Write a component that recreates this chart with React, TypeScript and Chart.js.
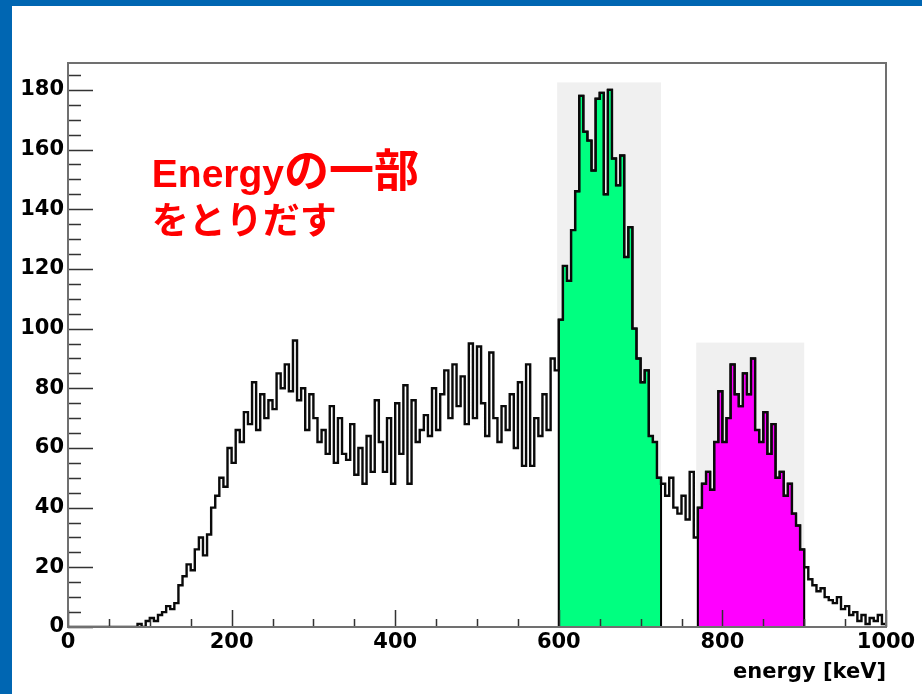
import React, { useEffect, useRef } from 'react';
import { Chart, registerables } from 'chart.js';

Chart.register(...registerables);

// ---------- data ----------
const BIN_WIDTH = 5; // keV per bin
const X_MIN = 0;
const X_MAX = 1000;
const Y_MIN = 0;
const Y_MAX = 189;

// counts per 5 keV bin, 0..1000 keV (200 bins)
const COUNTS = [
  0, 0, 0, 0, 0, 0, 0, 0, 0, 0, 0, 0, 0, 0, 0, 0, 0, 1, 0, 2,
  3, 2, 4, 5, 7, 6, 8, 14, 17, 21, 19, 26, 30, 24, 31, 40, 44, 50, 47, 60,
  55, 66, 62, 72, 68, 82, 66, 78, 70, 76, 73, 85, 80, 88, 79, 96, 76, 80, 66, 78,
  70, 62, 66, 58, 74, 55, 70, 58, 56, 68, 51, 60, 48, 64, 52, 76, 62, 52, 70, 48,
  75, 58, 81, 48, 76, 62, 66, 71, 64, 80, 66, 78, 86, 70, 88, 74, 84, 68, 95, 70,
  94, 75, 64, 92, 70, 62, 74, 66, 78, 60, 82, 54, 88, 54, 70, 64, 78, 66, 90, 86,
  103, 121, 116, 133, 146, 178, 166, 163, 153, 177, 179, 145, 180, 157, 148, 158, 124, 134, 100, 90,
  82, 86, 64, 62, 50, 48, 44, 50, 40, 38, 44, 36, 52, 30, 40, 48, 52, 46, 62, 79,
  62, 70, 88, 78, 74, 85, 78, 90, 66, 62, 72, 58, 68, 50, 52, 44, 48, 38, 34, 26,
  20, 16, 14, 12, 13, 10, 9, 8, 10, 6, 7, 4, 5, 2, 4, 1, 3, 2, 4, 1,
];

const GREEN_RANGE = [600, 725];
const MAGENTA_RANGE = [770, 900];
const GREEN_BOX = [598, 725, 182.5]; // x from, x to, top
const MAGENTA_BOX = [768, 900, 95.3];

const X_TICKS = [0, 200, 400, 600, 800, 1000];
const Y_TICKS = [0, 20, 40, 60, 80, 100, 120, 140, 160, 180];
const X_MINOR_STEP = 50;
const Y_MINOR_STEP = 5;

const X_TITLE = 'energy [keV]';
// annotation: pieces of text [string, font size]
const NOTE_LINE1 = [['Energy', 39], ['の一部', 45]];
const NOTE_LINE2 = [['をとりだす', 37]];
const NOTE_POS = [{ x: 102.5, y: 147.3 }, { x: 102.5, y: 131.6 }];

// ---------- helpers ----------
const binLeft = (i: number) => X_MIN + i * BIN_WIDTH;

function mainPoints() {
  const pts = COUNTS.map((c, i) => ({ x: binLeft(i), y: c }));
  pts.push({ x: X_MAX, y: COUNTS[COUNTS.length - 1] });
  return pts;
}

function subPoints(lo: number, hi: number) {
  const pts: { x: number; y: number }[] = [{ x: lo, y: 0 }];
  let last = 0;
  COUNTS.forEach((c, i) => {
    const e = binLeft(i);
    if (e >= lo && e < hi) {
      pts.push({ x: e, y: c });
      last = c;
    }
  });
  pts.push({ x: hi, y: last });
  pts.push({ x: hi, y: 0 });
  return pts;
}

const FONT = '"DejaVu Sans", "Liberation Sans", sans-serif';
const NOTE_FONT = '"Liberation Sans", "Noto Sans CJK JP", sans-serif';

const decorPlugin = {
  id: 'rootDecor',
  beforeDatasetsDraw(chart: any) {
    const { ctx, scales } = chart;
    const x = scales.x, y = scales.y;
    ctx.save();
    ctx.fillStyle = '#f0f0f0';
    [GREEN_BOX, MAGENTA_BOX].forEach((b) => {
      const x0 = x.getPixelForValue(b[0]);
      const x1 = x.getPixelForValue(b[1]);
      const yt = y.getPixelForValue(b[2]);
      const yb = y.getPixelForValue(0);
      ctx.fillRect(x0, yt, x1 - x0, yb - yt);
    });
    ctx.restore();
  },
  afterDatasetsDraw(chart: any) {
    const { ctx, scales, chartArea } = chart;
    const x = scales.x, y = scales.y;
    const { left, right, top, bottom } = chartArea;
    ctx.save();
    ctx.strokeStyle = '#333';
    ctx.lineWidth = 1.5;
    ctx.beginPath();
    for (let v = Y_MIN; v <= Y_MAX; v += Y_MINOR_STEP) {
      const py = Math.round(y.getPixelForValue(v)) + 0.5;
      const len = Y_TICKS.includes(v) ? 25 : 13;
      ctx.moveTo(left, py);
      ctx.lineTo(left + len, py);
    }
    for (let v = X_MIN; v <= X_MAX; v += X_MINOR_STEP) {
      const px = Math.round(x.getPixelForValue(v)) + 0.5;
      const len = X_TICKS.includes(v) ? 17 : 8;
      ctx.moveTo(px, bottom);
      ctx.lineTo(px, bottom - len);
    }
    ctx.stroke();
    ctx.strokeStyle = '#707070';
    ctx.lineWidth = 2;
    ctx.strokeRect(left, top, right - left, bottom - top);
    ctx.restore();
  },
  afterDraw(chart: any) {
    const { ctx, scales } = chart;
    ctx.save();
    ctx.fillStyle = '#ff0000';
    ctx.textBaseline = 'alphabetic';
    ctx.textAlign = 'left';
    [NOTE_LINE1, NOTE_LINE2].forEach((line, i) => {
      let px = scales.x.getPixelForValue(NOTE_POS[i].x);
      const py = scales.y.getPixelForValue(NOTE_POS[i].y);
      line.forEach(([t, size]) => {
        ctx.font = `bold ${size}px ${NOTE_FONT}`;
        ctx.fillText(t as string, px, py);
        px += ctx.measureText(t as string).width;
      });
    });
    ctx.restore();
  },
};

export default function App() {
  const ref = useRef<HTMLCanvasElement | null>(null);

  useEffect(() => {
    document.body.style.margin = '0';
    const canvas = ref.current;
    if (!canvas) return;
    const tickFont = { family: FONT, size: 21, weight: 'bold' as const };
    const chart = new Chart(canvas, {
      type: 'line',
      data: {
        datasets: [
          {
            data: mainPoints(),
            borderColor: '#0a0a0a',
            borderWidth: 2.4,
            pointRadius: 0,
            fill: false,
            stepped: 'before',
          },
          {
            data: subPoints(GREEN_RANGE[0], GREEN_RANGE[1]),
            borderColor: '#000',
            borderWidth: 2,
            backgroundColor: '#00ff80',
            pointRadius: 0,
            fill: 'origin',
            stepped: 'before',
          },
          {
            data: subPoints(MAGENTA_RANGE[0], MAGENTA_RANGE[1]),
            borderColor: '#000',
            borderWidth: 2,
            backgroundColor: '#ff00ff',
            pointRadius: 0,
            fill: 'origin',
            stepped: 'before',
          },
        ],
      },
      options: {
        animation: false,
        responsive: false,
        devicePixelRatio: 1,
        layout: { padding: { left: 0, top: 63, right: 36, bottom: 0 } },
        plugins: { legend: { display: false }, tooltip: { enabled: false } },
        scales: {
          x: {
            type: 'linear',
            min: X_MIN,
            max: X_MAX,
            afterBuildTicks: (s: any) => {
              s.ticks = X_TICKS.map((v) => ({ value: v }));
            },
            afterFit: (s: any) => {
              s.height = 67;
            },
            grid: { display: false, drawTicks: false },
            border: { display: false },
            ticks: {
              autoSkip: false,
              maxRotation: 0,
              minRotation: 0,
              padding: 3,
              color: '#000',
              font: tickFont,
              callback: (v: any) => String(v),
            },
            title: {
              display: true,
              text: X_TITLE,
              align: 'end',
              color: '#000',
              font: tickFont,
              padding: { top: 0, bottom: 9 },
            },
          },
          y: {
            type: 'linear',
            min: Y_MIN,
            max: Y_MAX,
            afterBuildTicks: (s: any) => {
              s.ticks = Y_TICKS.map((v) => ({ value: v }));
            },
            afterFit: (s: any) => {
              s.width = 68;
            },
            grid: { display: false, drawTicks: false },
            border: { display: false },
            ticks: {
              autoSkip: false,
              padding: 4,
              color: '#000',
              font: tickFont,
              callback: (v: any) => String(v),
            },
          },
        },
      },
      plugins: [decorPlugin],
    });
    return () => chart.destroy();
  }, []);

  return (
    <div style={{ position: 'absolute', left: 0, top: 0, width: 922, height: 694, background: '#fff', overflow: 'hidden' }}>
      <canvas ref={ref} width={922} height={694} style={{ position: 'absolute', left: 0, top: 0, width: 922, height: 694 }} />
      <div style={{ position: 'absolute', left: 0, top: 0, width: 922, height: 6, background: '#0066b2' }} />
      <div style={{ position: 'absolute', left: 0, top: 0, width: 12, height: 694, background: '#0066b2' }} />
    </div>
  );
}
